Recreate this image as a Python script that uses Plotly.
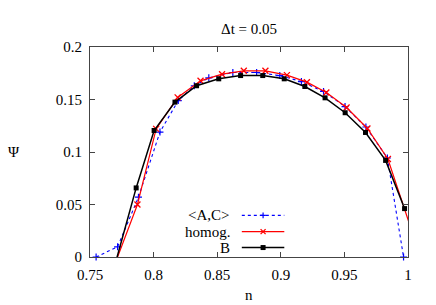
import plotly.graph_objects as go

# ---- data ----
ac_n = [0.7548, 0.7717, 0.7881, 0.8050, 0.8194, 0.8320, 0.8434, 0.8623, 0.8810,
        0.8992, 0.9162, 0.9336, 0.9505, 0.9669, 0.9838, 0.9965]
ac_psi = [0.0, 0.0097, 0.057, 0.119, 0.149, 0.163, 0.1706, 0.1757, 0.1757,
          0.1728, 0.1671, 0.1576, 0.1433, 0.1238, 0.0943, 0.0]

hom_n = [0.7680, 0.7873, 0.8020, 0.8189, 0.8369, 0.8538, 0.8709, 0.8879, 0.9048,
         0.9205, 0.9358, 0.9517, 0.9681, 0.9842, 1.0045]
hom_psi = [-0.0118, 0.050, 0.122, 0.152, 0.1678, 0.1741, 0.1773, 0.1773, 0.1732,
           0.1665, 0.1567, 0.1424, 0.1224, 0.0933, 0.0193]

b_n = [0.7690, 0.7863, 0.8004, 0.8168, 0.8338, 0.8512, 0.8684, 0.8858, 0.9027,
       0.9189, 0.9348, 0.9506, 0.9666, 0.9824, 0.9973]
b_psi = [-0.0101, 0.0658, 0.1205, 0.1475, 0.1631, 0.1697, 0.1728, 0.1728, 0.1697,
         0.1624, 0.1516, 0.1374, 0.1186, 0.092, 0.0461]

x_ticks = [0.75, 0.8, 0.85, 0.9, 0.95, 1.0]
x_ticktext = ["0.75", "0.8", "0.85", "0.9", "0.95", "1"]
y_ticks = [0, 0.05, 0.1, 0.15, 0.2]
y_ticktext = ["0", "0.05", "0.1", "0.15", "0.2"]

series_names = ["<A,C>", "homog.", "B"]
title_text = "\u0394t = 0.05"
x_label = "n"
y_label = "\u03a8"

FONT = "Liberation Serif"
BLUE = "#0000ff"
RED = "#ff0000"
BLACK = "#000000"

fig = go.Figure()

fig.add_trace(go.Scatter(
    x=ac_n, y=ac_psi, mode="lines+markers", name=series_names[0],
    line=dict(color=BLUE, width=1.1, dash="dot"),
    marker=dict(symbol="cross-thin", size=5, line=dict(color=BLUE, width=1.2)),
    cliponaxis=False, showlegend=False))
fig.add_trace(go.Scatter(
    x=hom_n, y=hom_psi, mode="lines+markers", name=series_names[1],
    line=dict(color=RED, width=1.2),
    marker=dict(symbol="x-thin", size=6, line=dict(color=RED, width=1.3)),
    cliponaxis=True, showlegend=False))
fig.add_trace(go.Scatter(
    x=b_n, y=b_psi, mode="lines+markers", name=series_names[2],
    line=dict(color=BLACK, width=1.5),
    marker=dict(symbol="square", size=5, color=BLACK),
    cliponaxis=True, showlegend=False))

# ---- gnuplot-style legend (text left, sample right) on an overlay 0..1 axis ----
key_rows = [0.198, 0.121, 0.045]
key_x0, key_x1, key_xm = 0.4774, 0.611, 0.5443
key_styles = [
    (dict(color=BLUE, width=1.1, dash="dot"),
     dict(symbol="cross-thin", size=4, line=dict(color=BLUE, width=1.2))),
    (dict(color=RED, width=1.2),
     dict(symbol="x-thin", size=5, line=dict(color=RED, width=1.3))),
    (dict(color=BLACK, width=1.5),
     dict(symbol="square", size=5, color=BLACK)),
]
for yy, (ln, mk), nm in zip(key_rows, key_styles, series_names):
    fig.add_trace(go.Scatter(x=[key_x0, key_x1], y=[yy, yy], mode="lines",
                             line=ln, xaxis="x2", yaxis="y2",
                             showlegend=False, hoverinfo="skip"))
    fig.add_trace(go.Scatter(x=[key_xm], y=[yy], mode="markers",
                             marker=mk, xaxis="x2", yaxis="y2",
                             showlegend=False, hoverinfo="skip"))
    fig.add_annotation(x=0.445, y=yy, xref="paper", yref="paper",
                       text=nm.replace("<", "&lt;").replace(">", "&gt;"),
                       showarrow=False, xanchor="right", yanchor="middle",
                       font=dict(family=FONT, size=15, color="#000"))

axis_common = dict(
    showline=True, linecolor="#444", linewidth=1, mirror="ticks",
    ticks="inside", ticklen=5, tickcolor="#444", tickwidth=1,
    showgrid=False, zeroline=False,
    tickfont=dict(family=FONT, size=15, color="#000"),
)

fig.update_layout(
    width=436, height=305,
    margin=dict(l=89.5, r=27.7, t=47, b=47.5),
    paper_bgcolor="white", plot_bgcolor="white",
    font=dict(family=FONT, size=15, color="#000"),
    xaxis=dict(range=[0.75, 1.0], tickvals=x_ticks, ticktext=x_ticktext,
               ticklabelstandoff=4, **axis_common),
    yaxis=dict(range=[0, 0.2], tickvals=y_ticks, ticktext=y_ticktext,
               ticklabelstandoff=4, **axis_common),
    xaxis2=dict(overlaying="x", range=[0, 1], visible=False, fixedrange=True),
    yaxis2=dict(overlaying="y", range=[0, 1], visible=False, fixedrange=True),
    showlegend=False,
)

fig.add_annotation(x=0.5, y=1.0855, xref="paper", yref="paper", text=title_text,
                   showarrow=False, xanchor="center", yanchor="middle",
                   font=dict(family=FONT, size=15, color="#000"))
fig.add_annotation(x=-0.238, y=0.5, xref="paper", yref="paper", text=y_label,
                   showarrow=False, xanchor="center", yanchor="middle",
                   font=dict(family=FONT, size=15, color="#000"))
fig.add_annotation(x=0.5, y=-0.135, xref="paper", yref="paper", text=x_label,
                   showarrow=False, xanchor="center", yanchor="top",
                   font=dict(family=FONT, size=15, color="#000"))

fig.write_html("out.html", config={"displayModeBar": False},
               post_script="document.body.style.margin='0';"
                           "document.body.style.padding='0';")
